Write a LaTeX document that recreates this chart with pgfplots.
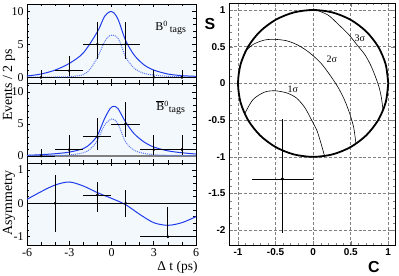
\documentclass[border=0pt]{standalone}
\usepackage{pgfplots}
\pgfplotsset{compat=1.18}
\usepackage{fontspec}
\setmainfont{Liberation Serif}
\newfontfamily\hel{Liberation Sans}
\definecolor{bgblue}{RGB}{243,248,252}
\definecolor{fitblue}{RGB}{30,60,235}
\definecolor{dashblue}{RGB}{90,120,245}
\begin{document}
\begin{tikzpicture}
\path[use as bounding box] (0,0) rectangle (399bp,276bp);
\pgfplotsset{
 leftpanel/.style={scale only axis, width=169bp, xmin=-6, xmax=6,
  anchor=south west, axis background/.style={fill=bgblue},
  tick align=inside, major tick length=3.5bp, minor tick length=2.5bp,
  xtick={-6,-3,0,3,6}, minor xtick={-5,-4,-2,-1,1,2,4,5},
  ticklabel style={font=\fontsize{12}{12}\selectfont},
  /pgf/number format/assume math mode=true,
  axis line style={line width=0.8pt},
  every tick/.style={black, line width=0.5pt}},
 fit/.style={fitblue, line width=1pt, smooth},
 fitd/.style={dashblue, line width=1pt, densely dotted, smooth},
 dat/.style={black, line width=0.6pt, only marks, mark=*, mark size=1.1pt,
  error bars/x dir=both, error bars/x explicit,
  error bars/y dir=both, error bars/y explicit,
  error bars/error mark=none,
  error bars/error bar style={line width=0.7pt, black}},
}
% top panel
\begin{axis}[leftpanel, at={(27bp,193bp)}, height=79bp, ymin=-0.86, ymax=11.1,
  ytick={0,5,10}, minor ytick={1,2,3,4,6,7,8,9,11}, xticklabels={}]
\addplot[black, line width=1pt] coordinates {(-6,0) (6,0)};
\addplot[fit] coordinates {(-6,0.2) (-5,0.5) (-4,1.1) (-3,2.1) (-2,3.7) (-1,6.9) (-0.5,9.2) (-0.1,9.95) (0.2,9.7) (0.5,8.6) (1,5.6) (1.6,3.4) (2.3,1.9) (3,1.1) (4,0.5) (5,0.25) (6,0.15)};
\addplot[fitd] coordinates {(-6,0.02) (-4,0.05) (-3,0.1) (-2,0.4) (-1.5,1.3) (-1,3.0) (-0.6,4.9) (-0.3,6.0) (0.05,6.4) (0.5,5.8) (1,3.1) (1.6,1.4) (2.3,0.6) (3,0.35) (4,0.15) (6,0.05)};
\addplot[dat] coordinates {
 (-5,0) += (1,1.15) -= (1,0)
 (-3,1) += (1,2.3) -= (1,0.83)
 (-1,5) += (1,3.38) -= (1,2.2)
 (1,5) += (1,3.38) -= (1,2.2)
 (3,0) += (1,1.15) -= (1,0)
 (5,0) += (1,1.15) -= (1,0)};
\node[font=\fontsize{12}{12}\selectfont] at (rel axis cs:0.85,0.7) {B\textsuperscript{0}\,\raisebox{-2pt}{\fontsize{10}{10}\selectfont tags}};
\end{axis}
% middle panel
\begin{axis}[leftpanel, at={(27bp,113bp)}, height=80bp, ymin=-1.1, ymax=11.4,
  ytick={0,5,10}, minor ytick={1,2,3,4,6,7,8,9,11}, xticklabels={}]
\addplot[gray, line width=1.2pt] coordinates {(-6,0) (6,0)};
\addplot[fit] coordinates {(-6,0.1) (-5,0.2) (-4,0.35) (-3,0.6) (-2,1.15) (-1.5,1.9) (-1,3.2) (-0.5,5.8) (-0.1,7.4) (0.15,7.75) (0.46,7.4) (1,5.3) (1.6,3.5) (2.3,2.2) (3,1.4) (4,0.8) (5,0.5) (6,0.3)};
\addplot[fitd] coordinates {(-6,0.03) (-4,0.08) (-3,0.15) (-2,0.5) (-1.5,1.1) (-1,2.4) (-0.5,4.8) (0.05,5.8) (0.46,5.0) (1,2.2) (1.6,0.9) (2.3,0.4) (3,0.2) (4,0.1) (6,0.05)};
\addplot[dat] coordinates {
 (-5,0) += (1,1.15) -= (1,0)
 (-3,1) += (1,2.3) -= (1,0.83)
 (-1,3) += (1,2.95) -= (1,2.0)
 (1,5) += (1,3.5) -= (1,2.0)
 (3,1) += (1,2.3) -= (1,0.83)
 (5,1) += (1,2.3) -= (1,0.83)};
\node[font=\fontsize{12}{12}\selectfont] at (rel axis cs:0.85,0.69) {$\overline{\mbox{B}}$\textsuperscript{0}\raisebox{-2pt}{\fontsize{10}{10}\selectfont tags}};
\end{axis}
% bottom panel
\begin{axis}[leftpanel, at={(27bp,31bp)}, height=82bp, ymin=-1.25, ymax=1.21,
  ytick={-1,0,1}, minor y tick num=4]
\addplot[black, line width=0.8pt] coordinates {(-6,0) (6,0)};
\addplot[fit] coordinates {(-6,0.12) (-5,0.35) (-4,0.55) (-3,0.64) (-2,0.52) (-1,0.32) (0,0.15) (1,-0.04) (2,-0.33) (3,-0.58) (4,-0.66) (5,-0.58) (6,-0.4)};
\addplot[dat] coordinates {
 (-4,0) += (2,0.85) -= (2,0.85)
 (-1,0.25) += (1,0.39) -= (1,0.5)
 (1,0) += (1,0.4) -= (1,0.4)
 (4,-1) += (2,0.88) -= (2,0)};
\end{axis}
\node[rotate=90, font=\fontsize{14}{14}\selectfont] at (9bp,191bp) {Events / 2 ps};
\node[rotate=90, font=\fontsize{14}{14}\selectfont] at (9bp,73bp) {Asymmetry};
\node[anchor=east, font=\fontsize{13.5}{13.5}\selectfont] at (201bp,9bp) {Δ t (ps)};
% right panel
\begin{axis}[at={(229bp,31bp)}, anchor=south west, scale only axis,
  width=166bp, height=242bp, xmin=-1.12, xmax=1.09, ymin=-2.2, ymax=1.095,
  xtick={-1,-0.5,0,0.5,1}, xticklabels={-1,-0.5,0,0.5,1},
  ytick={-2,-1.5,-1,-0.5,0,0.5,1}, yticklabels={-2,-1.5,-1,-0.5,0,0.5,1},
  minor x tick num=4, minor y tick num=4, tick align=inside,
  major tick length=4bp, minor tick length=2.5bp,
  grid=major, major grid style={gray, densely dashed, line width=0.5pt},
  ticklabel style={font=\hel\bfseries\fontsize{10}{10}\selectfont},
  axis line style={line width=0.9pt}]
\addplot[black, line width=1.8pt, smooth] coordinates {
 (1,0) (0.966,0.259) (0.866,0.5) (0.707,0.707) (0.5,0.866) (0.259,0.966) (0,1)
 (-0.259,0.966) (-0.5,0.866) (-0.707,0.707) (-0.866,0.5) (-0.966,0.259) (-1,0)
 (-0.966,-0.259) (-0.866,-0.5) (-0.707,-0.707) (-0.5,-0.866) (-0.259,-0.966) (0,-1)
 (0.259,-0.966) (0.5,-0.866) (0.707,-0.707) (0.866,-0.5) (0.966,-0.259) (1,0)};
\addplot[black, line width=0.6pt, smooth] coordinates {(-0.91,-0.41) (-0.8,-0.22) (-0.65,-0.12) (-0.51,-0.10) (-0.35,-0.13) (-0.22,-0.2) (-0.11,-0.33) (-0.03,-0.48) (0.05,-0.64) (0.10,-0.80) (0.15,-0.98)};
\addplot[black, line width=0.6pt, smooth] coordinates {(-0.91,0.43) (-0.8,0.53) (-0.65,0.59) (-0.51,0.60) (-0.35,0.58) (-0.2,0.52) (-0.05,0.42) (0.1,0.28) (0.22,0.12) (0.33,-0.05) (0.42,-0.23) (0.49,-0.42) (0.54,-0.6) (0.57,-0.82)};
\addplot[black, line width=0.6pt, smooth] coordinates {(0.04,1.0) (0.2,0.93) (0.34,0.8) (0.47,0.67) (0.58,0.53) (0.69,0.39) (0.77,0.24) (0.83,0.09) (0.88,-0.06) (0.91,-0.2) (0.93,-0.36)};
\addplot[black, line width=0.7pt, only marks, mark=*, mark size=1.2pt,
  error bars/x dir=both, error bars/x explicit, error bars/y dir=both, error bars/y explicit,
  error bars/error mark=none, error bars/error bar style={line width=0.7pt}]
  coordinates {(-0.41,-1.30) += (0.41,0.82) -= (0.40,0.73)};
\node[font=\fontsize{10}{10}\selectfont] at (axis cs:-0.27,-0.08) {1σ};
\node[font=\fontsize{10}{10}\selectfont] at (axis cs:0.25,0.33) {2σ};
\node[font=\fontsize{10}{10}\selectfont] at (axis cs:0.62,0.61) {3σ};
\end{axis}
\node[font=\hel\bfseries\fontsize{16}{16}\selectfont] at (210bp,252bp) {S};
\node[font=\hel\bfseries\fontsize{16}{16}\selectfont] at (374bp,9bp) {C};
\end{tikzpicture}
\end{document}
